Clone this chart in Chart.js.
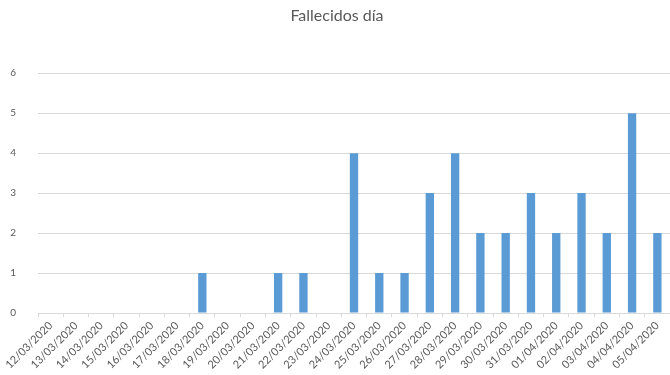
<!DOCTYPE html>
<html>
<head>
<meta charset="utf-8">
<script src="https://cdn.jsdelivr.net/npm/chart.js@4"></script>
<style>
  html, body { margin: 0; padding: 0; background: #fff; }
  #wrap { width: 670px; height: 375px; }
</style>
</head>
<body>
<div id="wrap"><canvas id="chart" width="670" height="375"></canvas></div>
<script>
// Chart data
const chartTitle = 'Fallecidos día';
const dates = [
    '12/03/2020', '13/03/2020', '14/03/2020', '15/03/2020', '16/03/2020',
    '17/03/2020', '18/03/2020', '19/03/2020', '20/03/2020', '21/03/2020',
    '22/03/2020', '23/03/2020', '24/03/2020', '25/03/2020', '26/03/2020',
    '27/03/2020', '28/03/2020', '29/03/2020', '30/03/2020', '31/03/2020',
    '01/04/2020', '02/04/2020', '03/04/2020', '04/04/2020', '05/04/2020'
];
const deaths = [0, 0, 0, 0, 0, 0, 1, 0, 0, 1, 1, 0, 4, 1, 1, 3, 4, 2, 2, 3, 2, 3, 2, 5, 2];
const yMax = 6;

const textColor = '#595959';
const gridColor = '#d9d9d9';

const ctx = document.getElementById('chart').getContext('2d');
new Chart(ctx, {
    type: 'bar',
    data: {
        labels: dates,
        datasets: [{
            label: 'Fallecidos',
            data: deaths,
            backgroundColor: '#5b9bd5',
            borderWidth: 0,
            categoryPercentage: 1.0,
            barPercentage: 0.33
        }]
    },
    options: {
        responsive: false,
        animation: false,
        layout: { padding: { left: 0, right: -4, top: 6, bottom: 0 } },
        plugins: {
            legend: { display: false },
            tooltip: { enabled: false },
            title: {
                display: true,
                text: chartTitle,
                color: textColor,
                font: { family: 'Lato, "Open Sans", sans-serif', size: 16, weight: 'normal' },
                padding: { top: 0, bottom: 48 }
            }
        },
        scales: {
            x: {
                offset: true,
                grid: {
                    display: true,
                    offset: true,
                    drawOnChartArea: false,
                    color: gridColor,
                    tickLength: 4
                },
                border: { color: gridColor },
                ticks: {
                    color: textColor,
                    font: { family: 'Lato, "Open Sans", sans-serif', size: 11 },
                    autoSkip: false,
                    minRotation: 45,
                    maxRotation: 45,
                    padding: 2
                },
                afterFit: scale => { scale.height = 62; }
            },
            y: {
                min: 0,
                max: yMax,
                grid: { color: gridColor, drawTicks: false },
                border: { display: false },
                ticks: {
                    stepSize: 1,
                    color: textColor,
                    font: { family: 'Lato, "Open Sans", sans-serif', size: 10 },
                    padding: 22
                },
                afterFit: scale => { scale.width = 38; }
            }
        }
    }
});
</script>
</body>
</html>
